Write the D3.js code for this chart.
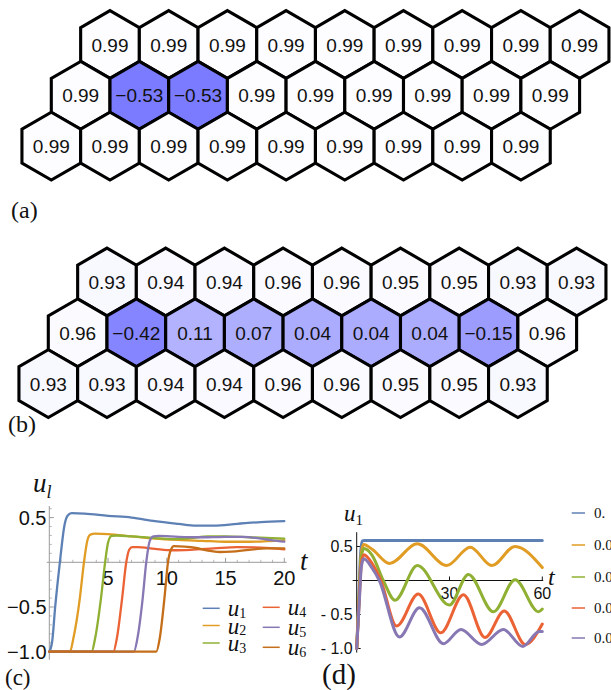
<!DOCTYPE html>
<html>
<head>
<meta charset="utf-8">
<script src="https://cdn.jsdelivr.net/npm/d3@7"></script>
<style>
  html, body { margin: 0; padding: 0; background: #fff; }
  svg { display: block; }
  .sans { font-family: "Liberation Sans", Arial, Helvetica, sans-serif; }
  .serif { font-family: "Liberation Serif", "Times New Roman", serif; }
</style>
</head>
<body>
<svg id="fig" width="611" height="690"></svg>
<script>
// ---- lattice values (rows top to bottom) ----
const latticeA = [
  [0.99, 0.99, 0.99, 0.99, 0.99, 0.99, 0.99, 0.99, 0.99],
  [0.99, -0.53, -0.53, 0.99, 0.99, 0.99, 0.99, 0.99, 0.99],
  [0.99, 0.99, 0.99, 0.99, 0.99, 0.99, 0.99, 0.99, 0.99]
];
const latticeB = [
  [0.93, 0.94, 0.94, 0.96, 0.96, 0.95, 0.95, 0.93, 0.93],
  [0.96, -0.42, 0.11, 0.07, 0.04, 0.04, 0.04, -0.15, 0.96],
  [0.93, 0.93, 0.94, 0.94, 0.96, 0.96, 0.95, 0.95, 0.93]
];
// each row starts this many half-cells to the right of the bottom row
const rowShift = [2, 1, 0];

// ---- panel (c): u_l(t) for sites 1..6, [t, u] ----
const u1 = [[0,-1],[0.25,-0.88],[0.5,-0.5],[0.9,0],[1.3,0.42],[1.55,0.52],[1.9,0.55],[3,0.545],[5,0.52],[7,0.5],[9,0.46],[11,0.43],[12.5,0.41],[14,0.41],[16,0.43],[18,0.45],[20,0.46]];
const u2 = [[0,-1],[1.76,-1],[2.05,-0.85],[2.6,-0.4],[2.95,0],[3.25,0.25],[3.5,0.31],[3.9,0.32],[5,0.315],[7,0.29],[9,0.265],[11,0.25],[13,0.24],[15,0.23],[17,0.23],[20,0.245]];
const u3 = [[0,-1],[3.6,-1],[3.9,-0.85],[4.4,-0.4],[4.75,0],[5.0,0.22],[5.3,0.295],[5.8,0.3],[7,0.29],[9,0.27],[10.5,0.26],[12,0.27],[13.5,0.29],[15,0.29],[17,0.28],[20,0.265]];
const u4 = [[0,-1],[5.45,-1],[5.75,-0.85],[6.2,-0.4],[6.55,0],[6.8,0.14],[7.05,0.17],[7.5,0.17],[9,0.15],[10.5,0.135],[12,0.14],[14,0.155],[16,0.17],[18,0.165],[20,0.145]];
const u5 = [[0,-1],[7.2,-1],[7.5,-0.85],[7.95,-0.4],[8.25,0],[8.55,0.24],[8.85,0.29],[9.3,0.295],[11,0.285],[13,0.28],[15,0.285],[16.5,0.285],[18,0.265],[19,0.245],[20,0.23]];
const u6 = [[0,-1],[9.1,-1],[9.4,-0.85],[9.8,-0.4],[10.1,0],[10.35,0.14],[10.6,0.18],[11.5,0.175],[12.5,0.16],[13.5,0.13],[14.5,0.115],[15.5,0.12],[17,0.14],[18.5,0.155],[20,0.155]];
const seriesC = [u1, u2, u3, u4, u5, u6];
const namesC = ["1", "2", "3", "4", "5", "6"];

// ---- panel (d): u_1(t) for five parameter values, [t, u] ----
const d1 = [[0,-1],[0.6,-0.35],[1.2,0.35],[1.8,0.58],[2.5,0.59],[60,0.59]];
const d2 = [[0,-1],[0.8,-0.2],[1.5,0.4],[2.2,0.53],[5,0.46],[10.6,0.25],[19.6,0.54],[29.1,0.22],[36.7,0.49],[43.7,0.22],[51.2,0.5],[60,0.19]];
const d3s = [[0,-1],[0.8,-0.25],[1.5,0.35],[2.3,0.47],[5,0.37],[8.6,0],[12.4,-0.29],[19.6,0.22],[30,-0.36],[36.1,0.09],[44.2,-0.46],[51.2,0.01],[58.8,-0.46],[60,-0.42]];
const d4 = [[0,-1],[0.8,-0.3],[1.5,0.25],[2.3,0.38],[5,0.25],[7.8,0],[12.9,-0.67],[19.9,-0.2],[27.2,-0.77],[34.5,-0.21],[41.5,-0.84],[47.7,-0.45],[54.5,-0.94],[60,-0.64]];
const d5 = [[0,-1],[0.8,-0.35],[1.5,0.2],[2.3,0.32],[5,0.18],[7.3,0],[13.8,-0.83],[20.3,-0.4],[28,-0.93],[33.7,-0.72],[40.4,-0.94],[47.4,-0.72],[53.7,-0.97],[59,-0.75],[60,-0.75]];
const seriesD = [d1, d2, d3s, d4, d5];
const labelsD = ["0.", "0.0", "0.0", "0.0", "0.0"];

const palette = ["#5E81B5", "#E19C24", "#8FB032", "#EB6235", "#8778B3", "#C56E1A"];

const svg = d3.select("#fig");
svg.append("rect").attr("width", 611).attr("height", 690).attr("fill", "#fff");

// ---------- hexagonal lattices ----------
const fillScale = d3.scaleLinear().domain([-1, 1])
  .range(["rgb(83,83,255)", "rgb(254,254,255)"]);
const fmt = d3.format(".2f");

function drawLattice(rows, x0, y0) {
  const hw = 29.35;                 // half the cell width
  const R = 2 * hw / Math.sqrt(3);  // circumradius
  const xs = d3.scaleLinear().domain([0, 1]).range([x0, x0 + hw]);
  const ys = d3.scaleLinear().domain([0, 1]).range([y0, y0 + 1.5 * R]);
  const cells = [];
  rows.forEach((row, r) => row.forEach((v, i) => {
    cells.push({ v, cx: xs(rowShift[r] + 2 * i), cy: ys(r) });
  }));
  const hexPts = d3.range(6).map(k => {
    const a = (Math.PI / 180) * (-90 + 60 * k);
    return [R * Math.cos(a), R * Math.sin(a)];
  });
  const hexLine = d3.line().curve(d3.curveLinearClosed);
  const g = svg.append("g");
  const cell = g.selectAll("g").data(cells).join("g")
    .attr("transform", d => `translate(${d.cx},${d.cy})`);
  cell.append("path")
    .attr("d", hexLine(hexPts))
    .attr("fill", d => fillScale(d.v))
    .attr("stroke", "#000")
    .attr("stroke-width", 3.1)
    .attr("stroke-linejoin", "miter");
  cell.append("text")
    .attr("class", "sans")
    .attr("text-anchor", "middle")
    .attr("y", 7)
    .attr("font-size", 19)
    .attr("fill", "#111")
    .text(d => fmt(d.v));
}

drawLattice(latticeA, 51.3, 44.5);
drawLattice(latticeB, 48.3, 282);

function panelLabel(txt, x, y, size) {
  svg.append("text").attr("class", "serif").attr("x", x).attr("y", y)
    .attr("font-size", size).attr("fill", "#111").text(txt);
}
panelLabel("(a)", 11, 218, 24);
panelLabel("(b)", 8, 432, 24);
panelLabel("(c)", 5, 685, 23);
panelLabel("(d)", 322, 684, 29);

// ---------- panel (c) ----------
const xC = d3.scaleLinear().domain([0, 20]).range([49.3, 284.3]);
const yC = d3.scaleLinear().domain([-1, 0.5]).range([651.7, 517.6]);
const gC = svg.append("g");
const axisGray = "#9a9a9a";

// axes
gC.append("line").attr("x1", xC(-0.22)).attr("x2", xC(20.2))
  .attr("y1", yC(0)).attr("y2", yC(0)).attr("stroke", axisGray).attr("stroke-width", 1);
gC.append("line").attr("x1", xC(0)).attr("x2", xC(0))
  .attr("y1", yC(-1.09)).attr("y2", yC(0.63)).attr("stroke", axisGray).attr("stroke-width", 1);
// x ticks
d3.range(1, 21).forEach(t => {
  const major = t % 5 === 0;
  gC.append("line").attr("x1", xC(t)).attr("x2", xC(t))
    .attr("y1", yC(0)).attr("y2", yC(0) - (major ? 4.5 : 2.5))
    .attr("stroke", axisGray).attr("stroke-width", major ? 1 : 0.7);
});
[5, 10, 15, 20].forEach(t => {
  gC.append("text").attr("class", "sans").attr("x", xC(t)).attr("y", yC(0) + 23)
    .attr("text-anchor", "middle").attr("font-size", 20).attr("fill", "#111").text(t);
});
// y ticks
d3.range(-10, 7).forEach(k => {
  if (k === 0) return;
  const v = k / 10;
  const major = k % 5 === 0;
  gC.append("line").attr("x1", xC(0)).attr("x2", xC(0) + (major ? 4.5 : 2.5))
    .attr("y1", yC(v)).attr("y2", yC(v))
    .attr("stroke", axisGray).attr("stroke-width", major ? 1 : 0.7);
});
const fmtC = d3.format(".1f");
[0.5, -0.5, -1].forEach(v => {
  gC.append("text").attr("class", "sans").attr("x", 46.5).attr("y", yC(v) + 7)
    .attr("text-anchor", "end").attr("font-size", 20).attr("fill", "#111").text(fmtC(v));
});
// curves
const lineC = d3.line().x(d => xC(d[0])).y(d => yC(d[1])).curve(d3.curveMonotoneX);
seriesC.forEach((s, i) => {
  gC.append("path").attr("d", lineC(s)).attr("fill", "none")
    .attr("stroke", palette[i]).attr("stroke-width", 2.3)
    .attr("stroke-linejoin", "round").attr("stroke-linecap", "round");
});
// axis labels
const ul = gC.append("text").attr("class", "serif").attr("x", 33).attr("y", 492)
  .attr("font-size", 27).attr("fill", "#111");
ul.append("tspan").attr("font-style", "italic").text("u");
ul.append("tspan").attr("font-style", "italic").attr("font-size", 18).attr("dy", 6).text("l");
gC.append("text").attr("class", "serif").attr("x", 300).attr("y", 570)
  .attr("font-size", 27).attr("font-style", "italic").attr("fill", "#111").text("t");
// legend
const legPos = [
  [202.7, 608.3], [202.7, 625.5], [202.7, 643],
  [262.7, 607.3], [262.7, 627.3], [262.7, 647.3]
];
namesC.forEach((n, i) => {
  const [lx, ly] = legPos[i];
  gC.append("line").attr("x1", lx).attr("x2", lx + 17).attr("y1", ly).attr("y2", ly)
    .attr("stroke", palette[i]).attr("stroke-width", 1.5);
  const t = gC.append("text").attr("class", "serif").attr("x", lx + 25).attr("y", ly + 8)
    .attr("font-size", 23).attr("fill", "#111");
  t.append("tspan").attr("font-style", "italic").text("u");
  t.append("tspan").attr("font-size", 14).attr("dy", 1.5).text(n);
});

// ---------- panel (d) ----------
const xD = d3.scaleLinear().domain([0, 60]).range([356.7, 542.3]);
const yD = d3.scaleLinear().domain([-1, 0.5]).range([648.5, 546.5]);
const gD = svg.append("g");
gD.append("line").attr("x1", xD(-1.3)).attr("x2", xD(60.3))
  .attr("y1", yD(0)).attr("y2", yD(0)).attr("stroke", "#111").attr("stroke-width", 1);
gD.append("line").attr("x1", xD(0)).attr("x2", xD(0))
  .attr("y1", yD(-1.06)).attr("y2", yD(0.71)).attr("stroke", "#111").attr("stroke-width", 1);
[30, 60].forEach(t => {
  gD.append("line").attr("x1", xD(t)).attr("x2", xD(t))
    .attr("y1", yD(0)).attr("y2", yD(0) - 4).attr("stroke", "#111").attr("stroke-width", 1);
  gD.append("text").attr("class", "sans").attr("x", xD(t)).attr("y", yD(0) + 18)
    .attr("text-anchor", "middle").attr("font-size", 16).attr("fill", "#111").text(t);
});
const tickTextD = v => (v < 0 ? "- " : "") + d3.format(".1f")(Math.abs(v));
[0.5, -0.5, -1].forEach(v => {
  gD.append("line").attr("x1", xD(0)).attr("x2", xD(0) + 4)
    .attr("y1", yD(v)).attr("y2", yD(v)).attr("stroke", "#111").attr("stroke-width", 1);
  gD.append("text").attr("class", "sans").attr("x", 352.7).attr("y", yD(v) + 5.5)
    .attr("text-anchor", "end").attr("font-size", 16).attr("fill", "#111").text(tickTextD(v));
});
const lineD = d3.line().x(d => xD(d[0])).y(d => yD(d[1])).curve(d3.curveMonotoneX);
seriesD.forEach((s, i) => {
  gD.append("path").attr("d", lineD(s)).attr("fill", "none")
    .attr("stroke", palette[i]).attr("stroke-width", 3)
    .attr("stroke-linejoin", "round").attr("stroke-linecap", "round");
});
const u1lab = gD.append("text").attr("class", "serif").attr("x", 344).attr("y", 521)
  .attr("font-size", 23).attr("fill", "#111");
u1lab.append("tspan").attr("font-style", "italic").text("u");
u1lab.append("tspan").attr("font-size", 15).attr("dy", 4).text("1");
gD.append("text").attr("class", "serif").attr("x", 548).attr("y", 585)
  .attr("font-size", 24).attr("font-style", "italic").attr("fill", "#111").text("t");
// legend
const legYD = [513, 545, 577, 608, 638];
labelsD.forEach((lab, i) => {
  gD.append("line").attr("x1", 571.7).attr("x2", 585).attr("y1", legYD[i]).attr("y2", legYD[i])
    .attr("stroke", palette[i]).attr("stroke-width", 1.5);
  gD.append("text").attr("class", "serif").attr("x", 594).attr("y", legYD[i] + 5)
    .attr("font-size", 15).attr("fill", "#111").text(lab);
});
</script>
</body>
</html>
